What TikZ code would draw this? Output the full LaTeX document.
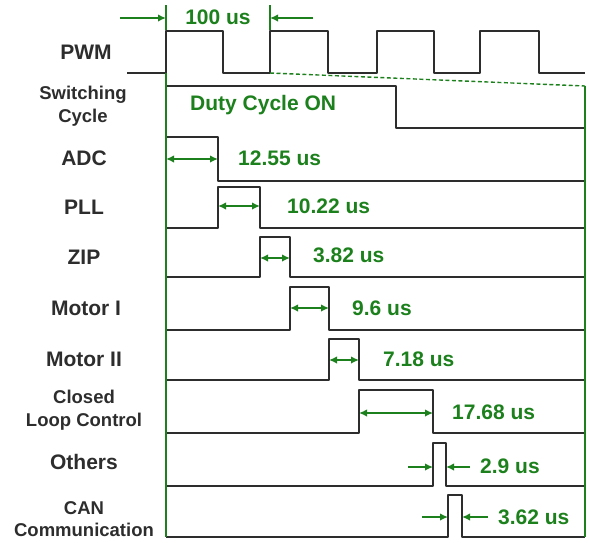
\documentclass[tikz,border=0pt]{standalone}
\usepackage{fontspec}
\setmainfont{Liberation Sans}
\usetikzlibrary{arrows.meta}
\definecolor{gr}{RGB}{28,128,28}
\definecolor{dk}{RGB}{45,45,45}
\begin{document}
\begin{tikzpicture}[x=1pt,y=-1pt,
  wave/.style={draw=dk,line width=2.2pt,line join=round},
  gline/.style={draw=gr,line width=2pt},
  gdash/.style={draw=gr,line width=1.4pt,dash pattern=on 4pt off 2.5pt},
  dimboth/.style={draw=gr,line width=1.6pt,{Latex[length=8pt,width=7.5pt]}-{Latex[length=8pt,width=7.5pt]}},
  dimone/.style={draw=gr,line width=1.6pt,-{Latex[length=8pt,width=7.5pt]}},
  lab/.style={font=\fontsize{21}{23}\selectfont\bfseries,text=dk,align=center,inner sep=0},
  labtwo/.style={font=\fontsize{18.5}{22.5}\selectfont\bfseries,text=dk,align=center,inner sep=0},
  val/.style={font=\fontsize{21}{23}\selectfont\bfseries,text=gr,anchor=west,inner sep=0}]
\useasboundingbox (0,0) rectangle (589,542);
% labels
\node[lab] (lpwm) at (86,52) {PWM};
\node[labtwo] (lsw) at (83,106) {Switching\\Cycle};
\node[lab] (ladc) at (84,158) {ADC};
\node[lab] (lpll) at (84,207) {PLL};
\node[lab] (lzip) at (84,257) {ZIP};
\node[lab] (lm1) at (86,308) {Motor I};
\node[lab] (lm2) at (84,359) {Motor II};
\node[labtwo] (lclc) at (84,410) {Closed\\Loop Control};
\node[lab] (loth) at (84,462) {Others};
\node[labtwo] (lcan) at (84,519) {CAN\\Communication};
% PWM
\draw[wave] (127,73) -- (166,73) -- (166,31) -- (223,31) -- (223,73) -- (270,73) -- (270,31) -- (328,31) -- (328,73) -- (377,73) -- (377,31) -- (434,31) -- (434,73) -- (480,73) -- (480,31) -- (539,31) -- (539,73) -- (585,73);
% period dimension
\coordinate (p1t) at (166,5); \coordinate (p1b) at (166,30);
\coordinate (p2t) at (270,5); \coordinate (p2b) at (270,30);
\coordinate (pa) at (120,18); \coordinate (pae) at (166,18);
\coordinate (pb) at (313,18); \coordinate (pbe) at (270,18);
\draw[gline,line width=1.4pt] (p1t) -- (p1b);
\draw[gline,line width=1.4pt] (p2t) -- (p2b);
\draw[dimone] (pa) -- (pae);
\draw[dimone] (pb) -- (pbe);
\node[val,anchor=center] (tper) at (218,17) {100 us};
% switching cycle
\draw[wave] (166,86) -- (396,86) -- (396,128) -- (585,128);
\node[val] (tduty) at (190,105) {Duty Cycle ON};
% task rows: name/top/bottom/start/end/arrow y/value/text x/text y
\foreach \n/\T/\B/\s/\e/\a/\v/\tx/\ty in {
  adc/137/181/166/218/159/12.55/238/158,
  pll/187/228/218/260/206/10.22/287/206,
  zip/237/277/260/290/258/3.82/313/255,
  ma/287/330/290/329/308/9.6/352/308,
  mb/339/380/329/359/360/7.18/383/359,
  clc/390/433/359/433/413/17.68/452/412}{
  \coordinate (\n-l) at (166,\B);
  \coordinate (\n-sb) at (\s,\B);
  \coordinate (\n-st) at (\s,\T);
  \coordinate (\n-et) at (\e,\T);
  \coordinate (\n-eb) at (\e,\B);
  \coordinate (\n-r) at (585,\B);
  \draw[wave] (\n-l) -- (\n-sb) -- (\n-st) -- (\n-et) -- (\n-eb) -- (\n-r);
  \coordinate (\n-da) at (\s,\a);
  \coordinate (\n-db) at (\e,\a);
  \draw[dimboth] (\n-da) -- (\n-db);
  \node[val] (\n-txt) at (\tx,\ty) {\v\ us};
}
% narrow pulses
\foreach \n/\T/\B/\s/\e/\a/\v/\lx/\rx/\tx/\ty in {
  oth/443/486/433/446/467/2.9/408/470/480/466,
  can/495/537/448/462/517/3.62/422/488/498/517}{
  \coordinate (\n-l) at (166,\B);
  \coordinate (\n-sb) at (\s,\B);
  \coordinate (\n-st) at (\s,\T);
  \coordinate (\n-et) at (\e,\T);
  \coordinate (\n-eb) at (\e,\B);
  \coordinate (\n-r) at (585,\B);
  \draw[wave] (\n-l) -- (\n-sb) -- (\n-st) -- (\n-et) -- (\n-eb) -- (\n-r);
  \coordinate (\n-la) at (\lx,\a);
  \coordinate (\n-lb) at (\s,\a);
  \coordinate (\n-ra) at (\rx,\a);
  \coordinate (\n-rb) at (\e,\a);
  \draw[dimone] (\n-la) -- (\n-lb);
  \draw[dimone] (\n-ra) -- (\n-rb);
  \node[val] (\n-txt) at (\tx,\ty) {\v\ us};
}
% green frame
\coordinate (gl-t) at (166,73); \coordinate (gl-b) at (166,537);
\coordinate (gr-t) at (585,86); \coordinate (gr-b) at (585,537);
\coordinate (gd-s) at (270,73);
\draw[gdash] (gd-s) -- (gr-t);
\draw[gline] (gl-t) -- (gl-b);
\draw[gline] (gr-t) -- (gr-b);
\end{tikzpicture}
\end{document}
